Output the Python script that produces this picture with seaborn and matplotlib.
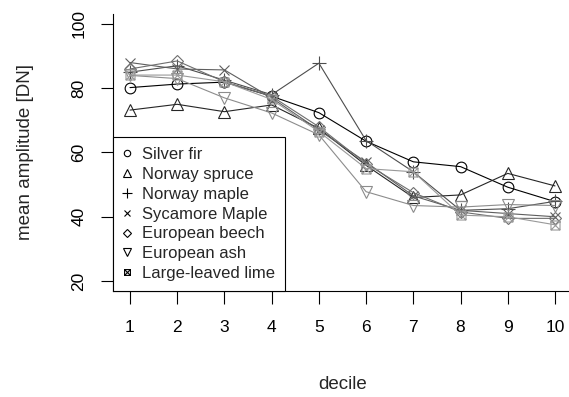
import numpy as np
import pandas as pd
import matplotlib
matplotlib.use("Agg")
import matplotlib.pyplot as plt
from matplotlib.path import Path
from matplotlib.lines import Line2D
import seaborn as sns

deciles = [1, 2, 3, 4, 5, 6, 7, 8, 9, 10]
silver_fir = [80.2, 81.3, 81.9, 77.5, 72.4, 63.5, 57.1, 55.6, 49.2, 44.7]
norway_spruce = [73.2, 75.0, 72.7, 74.8, 67.5, 56.0, 46.0, 46.8, 53.5, 49.6]
norway_maple = [85.0, 87.0, 82.5, 78.0, 87.8, 63.7, 54.0, 42.0, 42.5, 44.8]
sycamore_maple = [88.0, 86.0, 85.7, 77.0, 67.0, 57.0, 46.5, 42.0, 41.0, 40.0]
european_beech = [86.0, 88.5, 82.0, 77.5, 68.0, 56.5, 47.5, 41.5, 39.5, 39.5]
european_ash = [84.0, 83.0, 77.0, 72.3, 65.5, 47.8, 43.5, 43.0, 43.8, 43.5]
large_leaved_lime = [84.1, 84.1, 82.0, 76.5, 66.5, 55.0, 54.0, 40.5, 40.0, 37.5]

species = ["Silver fir", "Norway spruce", "Norway maple", "Sycamore Maple",
           "European beech", "European ash", "Large-leaved lime"]
series = [silver_fir, norway_spruce, norway_maple, sycamore_maple,
          european_beech, european_ash, large_leaved_lime]
x_ticks = [1, 2, 3, 4, 5, 6, 7, 8, 9, 10]
y_ticks = [20, 40, 60, 80, 100]

sns.set_style("ticks")
plt.rcParams['font.family'] = ['Liberation Sans', 'DejaVu Sans']

# square with a cross (R pch 7)
boxx = Path([(-1, -1), (1, -1), (1, 1), (-1, 1), (-1, -1),
             (-1, -1), (1, 1), (-1, 1), (1, -1)],
            [Path.MOVETO, Path.LINETO, Path.LINETO, Path.LINETO, Path.CLOSEPOLY,
             Path.MOVETO, Path.LINETO, Path.MOVETO, Path.LINETO])

colors = ["#000000", "#262626", "#4d4d4d", "#5e5e5e", "#6e6e6e", "#8c8c8c", "#999999"]
markers = ["o", "^", "+", "x", "D", "v", boxx]
msizes = [7.7, 9.0, 10.5, 7.5, 6.0, 9.0, 6.5]
leg_sizes = [4.6, 5.5, 7.0, 5.0, 3.8, 5.5, 4.2]

W, H = 569, 397
fig = plt.figure(figsize=(W / 100, H / 100), dpi=100)
ax = fig.add_axes([113 / W, (H - 291.3) / H, 459 / W, 277.6 / H])

for name, vals, col, mk, ms in zip(species, series, colors, markers, msizes):
    sns.lineplot(x=deciles, y=vals, ax=ax, color=col, linewidth=0.8,
                 marker=mk, markersize=ms, markerfacecolor="none",
                 markeredgecolor=col, markeredgewidth=0.8, legend=False)

ax.set_xlim(0.64, 10.36)
ax.set_ylim(16.8, 103.2)
ax.set_xticks(x_ticks)
ax.set_yticks(y_ticks)
ax.set_xticklabels([str(v) for v in x_ticks])
ax.set_yticklabels([str(v) for v in y_ticks], rotation=90, va="center")
for s in ["top", "right"]:
    ax.spines[s].set_visible(False)
for s in ["left", "bottom"]:
    ax.spines[s].set_linewidth(0.8)
    ax.spines[s].set_color("black")
ax.tick_params(axis="both", direction="out", length=9, width=0.8, colors="black",
               labelsize=12.5)
ax.tick_params(axis="x", pad=12.0)
ax.tick_params(axis="y", pad=10.0)

ax.set_xlabel("decile", fontsize=13.5)
ax.set_ylabel("mean amplitude [DN]", fontsize=13.5)
ax.xaxis.set_label_coords(0.5, -0.305)
ax.yaxis.set_label_coords(-0.172, 0.5)

handles = [Line2D([], [], linestyle="none", marker=m, markersize=s, color="black",
                  markerfacecolor="none", markeredgewidth=0.8)
           for m, s in zip(markers, leg_sizes)]
leg = ax.legend(handles, species, loc="upper left", bbox_to_anchor=(0, 0.5556),
                borderaxespad=0, fontsize=12, frameon=True, fancybox=False,
                edgecolor="black", framealpha=1, borderpad=0.6,
                handlelength=0.5, handletextpad=0.65, labelspacing=0.29)
leg.get_frame().set_linewidth(0.8)

fig.savefig("out.png", dpi=100, facecolor="white")
